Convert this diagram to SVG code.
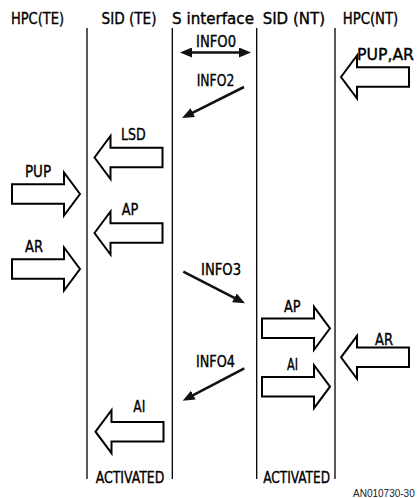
<svg xmlns="http://www.w3.org/2000/svg" width="417" height="498" viewBox="0 0 417 498">
<style>
text{font-family:"DejaVu Sans Condensed","DejaVu Sans",sans-serif;font-size:16px;fill:#000;stroke:#000;stroke-width:0.35}
.life{stroke:#000;stroke-width:1.3;fill:none}
.big{fill:#fff;stroke:#000;stroke-width:2;stroke-linejoin:miter}
.sig{stroke:#111;stroke-width:2.6;fill:none}
text.note{font-family:"Liberation Sans",Arial,sans-serif;font-size:10px;fill:#222;stroke:none}
</style>
<defs>
<marker id="ah" viewBox="0 0 12 10" refX="6" refY="5" markerWidth="12" markerHeight="10" markerUnits="userSpaceOnUse" orient="auto-start-reverse">
<path d="M0,0 L12,5 L0,10 Z" fill="#111"/>
</marker>
<path id="bigL" d="M0,0 L16,-21.5 L16,-9.7 L68,-9.7 L68,9.7 L16,9.7 L16,21.5 Z"/>
</defs>
<rect width="417" height="498" fill="#fff"/>
<g id="hpc-te"><text x="11" y="23.5" textLength="53" lengthAdjust="spacingAndGlyphs">HPC(TE)</text></g>
<g id="sid-te"><text x="101.5" y="23.5" textLength="55" lengthAdjust="spacingAndGlyphs">SID (TE)</text><line class="life" x1="87" y1="28" x2="87" y2="479"/><line class="life" x1="172.3" y1="28" x2="172.3" y2="479"/><text x="95.7" y="483.3" textLength="68.6" lengthAdjust="spacingAndGlyphs">ACTIVATED</text></g>
<g id="s-interface"><text x="172" y="23.5" textLength="82" lengthAdjust="spacingAndGlyphs">S interface</text></g>
<g id="sid-nt"><text x="262.7" y="23.5" textLength="62.3" lengthAdjust="spacingAndGlyphs">SID (NT)</text><line class="life" x1="256.7" y1="28" x2="256.7" y2="479"/><line class="life" x1="335" y1="28" x2="335" y2="479"/><text x="263.3" y="483.3" textLength="66.7" lengthAdjust="spacingAndGlyphs">ACTIVATED</text></g>
<g id="hpc-nt"><text x="342.7" y="23.5" textLength="55.6" lengthAdjust="spacingAndGlyphs">HPC(NT)</text></g>
<g id="connectors">
<line class="sig" x1="186" y1="52.5" x2="245" y2="52.5" marker-start="url(#ah)" marker-end="url(#ah)"/>
<text x="196" y="47" textLength="40" lengthAdjust="spacingAndGlyphs">INFO0</text>
<line class="sig" x1="244" y1="87" x2="187.4" y2="115.3" marker-end="url(#ah)"/>
<text x="196.7" y="86" textLength="37.6" lengthAdjust="spacingAndGlyphs">INFO2</text>
<line class="sig" x1="183.3" y1="271.7" x2="239.7" y2="300.6" marker-end="url(#ah)"/>
<text x="201" y="275" textLength="40" lengthAdjust="spacingAndGlyphs">INFO3</text>
<line class="sig" x1="244.3" y1="368.3" x2="188" y2="397.9" marker-end="url(#ah)"/>
<text x="196" y="366.7" textLength="39" lengthAdjust="spacingAndGlyphs">INFO4</text>
<use href="#bigL" class="big" transform="translate(341,77)"/>
<text x="357" y="60" textLength="57" lengthAdjust="spacingAndGlyphs">PUP,AR</text>
<use href="#bigL" class="big" transform="translate(94.5,157.5)"/>
<text x="121" y="140" textLength="24.7" lengthAdjust="spacingAndGlyphs">LSD</text>
<use href="#bigL" class="big" transform="translate(80,194) scale(-1,1)"/>
<text x="25" y="176.5" textLength="26" lengthAdjust="spacingAndGlyphs">PUP</text>
<use href="#bigL" class="big" transform="translate(94.5,233)"/>
<text x="121.7" y="215" textLength="16.6" lengthAdjust="spacingAndGlyphs">AP</text>
<use href="#bigL" class="big" transform="translate(80,269) scale(-1,1)"/>
<text x="25" y="252" textLength="18" lengthAdjust="spacingAndGlyphs">AR</text>
<use href="#bigL" class="big" transform="translate(330,328.3) scale(-1,1)"/>
<text x="284" y="311.7" textLength="16.6" lengthAdjust="spacingAndGlyphs">AP</text>
<use href="#bigL" class="big" transform="translate(341,357.3)"/>
<text x="375" y="345" textLength="18" lengthAdjust="spacingAndGlyphs">AR</text>
<use href="#bigL" class="big" transform="translate(330,386.7) scale(-1,1)"/>
<text x="287" y="370" textLength="11" lengthAdjust="spacingAndGlyphs">AI</text>
<use href="#bigL" class="big" transform="translate(95.5,431.7)"/>
<text x="133.3" y="411.7" textLength="12" lengthAdjust="spacingAndGlyphs">AI</text>
</g>
<text class="note" x="353" y="497">AN010730-30</text>
</svg>
